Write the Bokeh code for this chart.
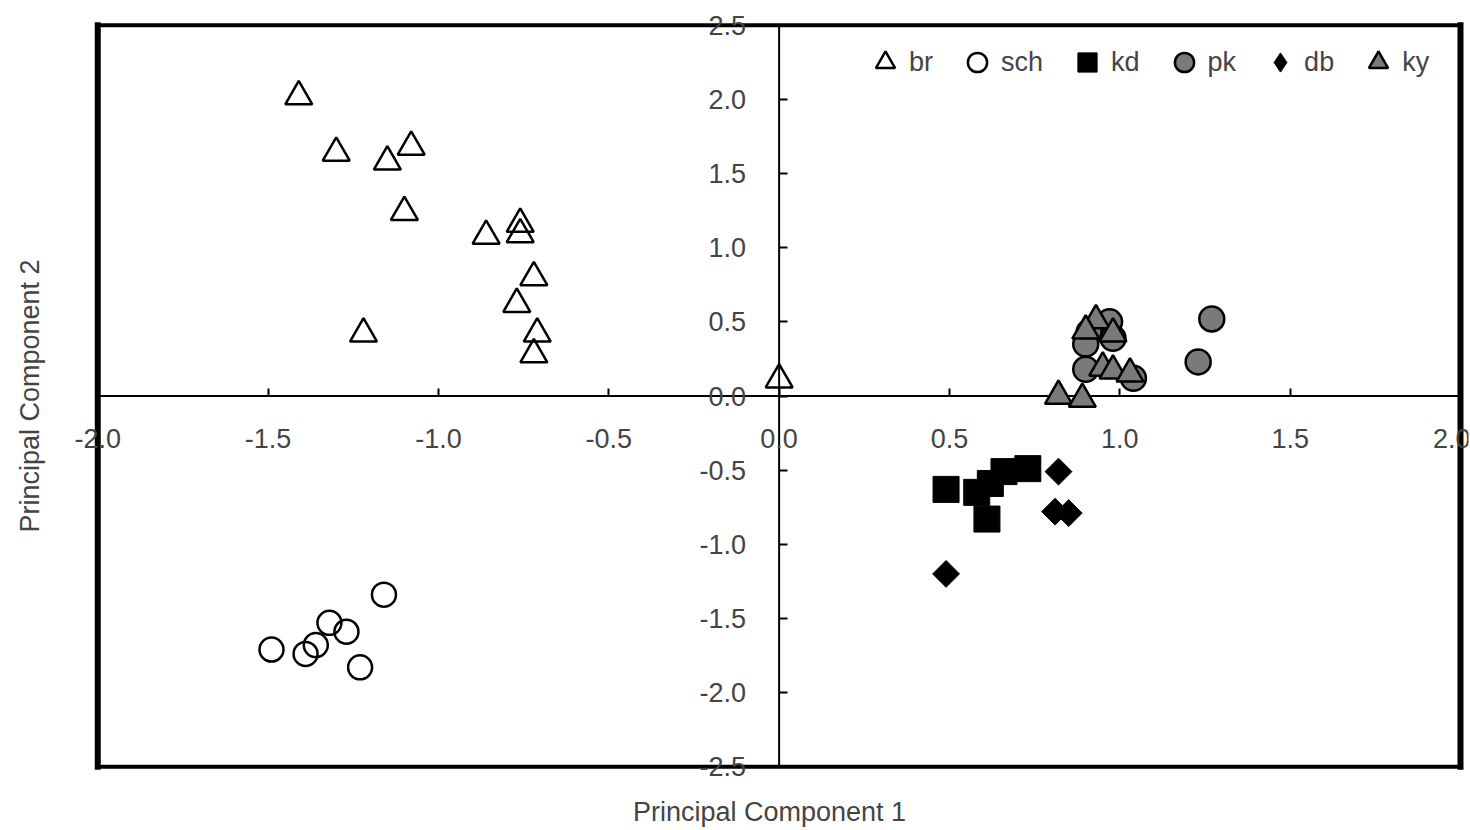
import math
from bokeh.plotting import figure
from bokeh.models import LinearAxis, FixedTicker, PrintfTickFormatter, Legend, LegendItem, Range1d
from bokeh.embed import file_html
from bokeh.resources import INLINE

# ---- data ----
br_x = [-1.41, -1.30, -1.15, -1.08, -1.10, -0.86, -0.76, -0.76, -0.72, -0.77, -1.22, -0.71, -0.72, 0.00]
br_y = [2.02, 1.64, 1.58, 1.68, 1.24, 1.08, 1.16, 1.09, 0.80, 0.62, 0.42, 0.42, 0.28, 0.11]

sch_x = [-1.16, -1.32, -1.27, -1.49, -1.36, -1.39, -1.23]
sch_y = [-1.34, -1.53, -1.59, -1.71, -1.68, -1.74, -1.83]

kd_x = [0.49, 0.58, 0.61, 0.62, 0.66, 0.73]
kd_y = [-0.63, -0.65, -0.83, -0.59, -0.51, -0.49]

pk_x = [1.27, 1.23, 0.97, 0.91, 0.98, 0.90, 0.90, 1.04]
pk_y = [0.52, 0.23, 0.50, 0.43, 0.39, 0.35, 0.18, 0.12]

db_x = [0.82, 0.81, 0.85, 0.49]
db_y = [-0.51, -0.78, -0.79, -1.20]

ky_x = [0.93, 0.90, 0.98, 0.95, 0.98, 1.03, 0.82, 0.89]
ky_y = [0.51, 0.44, 0.42, 0.19, 0.17, 0.15, 0.00, -0.02]

x_ticks = [-2.0, -1.5, -1.0, -0.5, 0.0, 0.5, 1.0, 1.5, 2.0]
y_ticks = [-2.5, -2.0, -1.5, -1.0, -0.5, 0.0, 0.5, 1.0, 1.5, 2.0, 2.5]
x_title = "Principal Component 1"
y_title = "Principal Component 2"
series_names = ["br", "sch", "kd", "pk", "db", "ky"]

FONT = "Liberation Sans"
TICK_FS = "27px"

x_lo, x_hi = x_ticks[0], x_ticks[-1]
y_lo, y_hi = y_ticks[0], y_ticks[-1]

p = figure(width=1470, height=830, output_backend="svg", toolbar_location=None,
           x_range=Range1d(x_lo - 0.08, x_hi + 0.0235),
           y_range=Range1d(y_lo - 0.08, y_hi + 0.08),
           x_axis_location=None, y_axis_location=None,
           min_border_left=70, min_border_right=2, min_border_top=13, min_border_bottom=52)
p.grid.visible = False
p.outline_line_color = None
p.background_fill_color = "white"

# axis lines through the origin (drawn under the markers)
p.segment(x0=[x_lo, 0], y0=[0, y_lo], x1=[x_hi, 0], y1=[0, y_hi],
          line_color="black", line_width=2)

# axes crossing at the origin (ticks + labels)
xax = LinearAxis(fixed_location=0, ticker=FixedTicker(ticks=x_ticks),
                 formatter=PrintfTickFormatter(format="%.1f"))
yax = LinearAxis(fixed_location=0, ticker=FixedTicker(ticks=y_ticks),
                 formatter=PrintfTickFormatter(format="%.1f"))
for ax in (xax, yax):
    ax.axis_line_color = None
    ax.major_tick_line_width = 2
    ax.major_tick_in = 8
    ax.major_tick_out = 0
    ax.minor_tick_line_color = None
    ax.major_label_text_font = FONT
    ax.major_label_text_font_size = TICK_FS
    ax.major_label_standoff = 33
p.add_layout(xax, "below")
p.add_layout(yax, "left")

# axis titles via label-only axes
tx = LinearAxis(ticker=FixedTicker(ticks=[]), axis_label=x_title)
ty = LinearAxis(ticker=FixedTicker(ticks=[]), axis_label=y_title)
for ax, so in ((tx, 18), (ty, 26)):
    ax.axis_line_color = None
    ax.major_tick_line_color = None
    ax.minor_tick_line_color = None
    ax.major_label_text_font_size = "0px"
    ax.axis_label_text_font = FONT
    ax.axis_label_text_font_size = "27px"
    ax.axis_label_text_font_style = "normal"
    ax.axis_label_standoff = so
p.add_layout(tx, "below")
p.add_layout(ty, "left")

LW = 2.5
GRAY = "#7a7a7a"
r_br = p.scatter(br_x, br_y, marker="triangle", size=27, fill_color=None,
                 line_color="black", line_width=LW)
r_sch = p.scatter(sch_x, sch_y, marker="circle", size=24, fill_color=None,
                  line_color="black", line_width=LW)
r_kd = p.scatter(kd_x, kd_y, marker="square", size=26, fill_color="black",
                 line_color="black", line_width=1)
r_pk = p.scatter(pk_x, pk_y, marker="circle", size=25, fill_color=GRAY,
                 line_color="black", line_width=LW)
# diamond-marker copy of db (used as the legend key; hidden under the rotated squares)
r_db_key = p.scatter(db_x, db_y, marker="diamond", size=19,
                     fill_color="black", line_color="black", line_width=1)
r_db = p.scatter(db_x, db_y, marker="square", angle=math.pi / 4, size=19,
                 fill_color="black", line_color="black", line_width=1)
r_ky = p.scatter(ky_x, ky_y, marker="triangle", size=27, fill_color=GRAY,
                 line_color="black", line_width=LW)

# chart box at the axis limits
p.segment(x0=[x_lo, x_hi], y0=[y_lo, y_lo], x1=[x_lo, x_hi], y1=[y_hi, y_hi],
          line_color="black", line_width=6, line_cap="square")
p.segment(x0=[x_lo, x_lo], y0=[y_lo, y_hi], x1=[x_hi, x_hi], y1=[y_lo, y_hi],
          line_color="black", line_width=4, line_cap="square")

renderers = [r_br, r_sch, r_kd, r_pk, r_db_key, r_ky]
legend = Legend(items=[LegendItem(label=n, renderers=[r]) for n, r in zip(series_names, renderers)],
                orientation="horizontal", location=(791, 692))
legend.border_line_color = None
legend.background_fill_alpha = 0
legend.label_text_font = FONT
legend.label_text_font_size = "27px"
legend.glyph_width = 48
legend.glyph_height = 48
legend.label_standoff = 0
legend.spacing = 20
legend.margin = 0
legend.padding = 0
p.add_layout(legend, "center")

open("out.html", "w").write(file_html(p, INLINE))
